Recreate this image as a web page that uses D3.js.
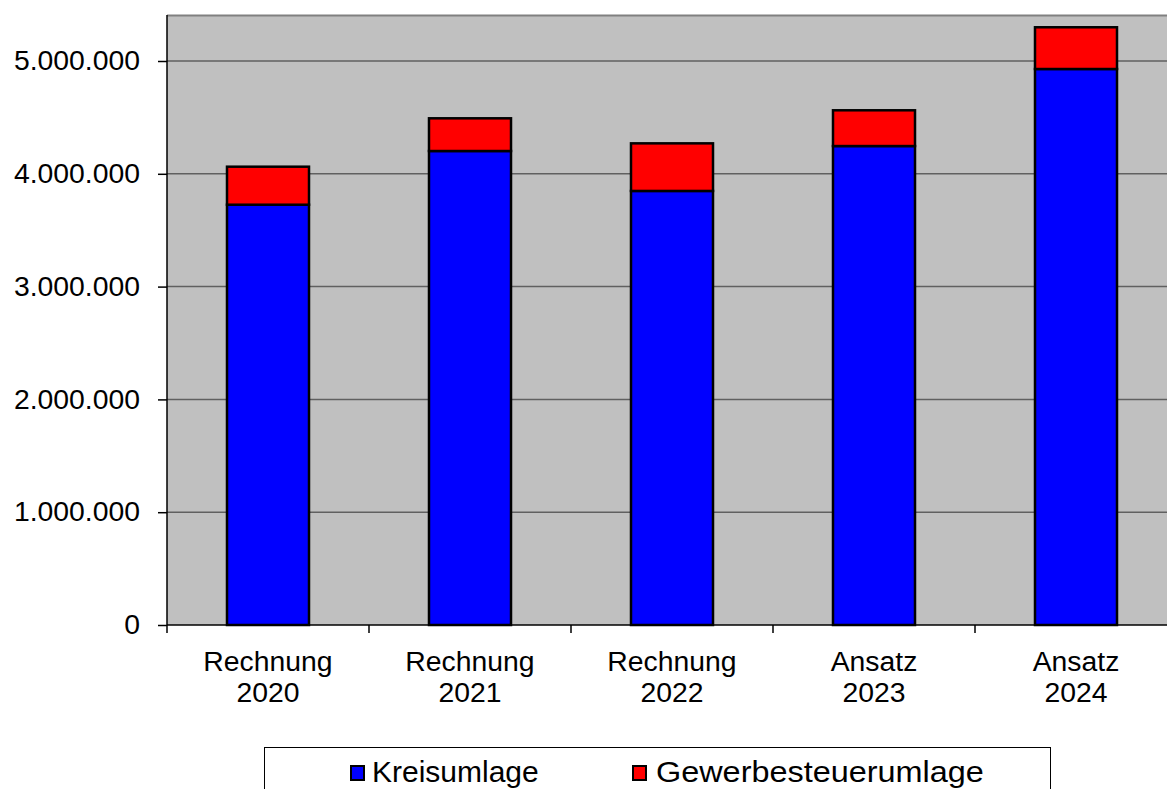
<!DOCTYPE html>
<html><head><meta charset="utf-8">
<script src="https://cdn.jsdelivr.net/npm/d3@7"></script>
<style>body{margin:0;background:#fff}svg{display:block}text{font-family:"Liberation Sans",Arial,sans-serif;fill:#000}</style>
</head><body>
<script>
const categories = [["Rechnung","2020"],["Rechnung","2021"],["Rechnung","2022"],["Ansatz","2023"],["Ansatz","2024"]];
const kreisumlage = [3726000, 4202000, 3848000, 4246000, 4929000];
const gewerbesteuerumlage = [337000, 290000, 422000, 317000, 370000];
const seriesNames = ["Kreisumlage","Gewerbesteuerumlage"];
const seriesColors = ["#0000ff","#ff0000"];
const yTicks = [0,1000000,2000000,3000000,4000000,5000000];
const yTickLabels = ["0","1.000.000","2.000.000","3.000.000","4.000.000","5.000.000"];

(function(){
const W=1167,H=789;
const svg=d3.select("body").append("svg").attr("width",W).attr("height",H);
const pL=167, pR=1177, pT=15, pB=625;
const x=d3.scaleBand().domain(d3.range(categories.length)).range([pL,pR]).paddingInner(0.594).paddingOuter(0.297);
const y=d3.scaleLinear().domain([0,5000000]).range([pB,61]);
function stretch(el,f){const n=el.node();const w=n.getComputedTextLength();el.attr("textLength",w*f).attr("lengthAdjust","spacingAndGlyphs");}

svg.append("rect").attr("x",pL).attr("y",pT).attr("width",W-pL).attr("height",pB-pT).attr("fill","#c0c0c0");
svg.append("line").attr("x1",pL).attr("x2",W).attr("y1",pT+0.5).attr("y2",pT+0.5).attr("stroke","#808080").attr("stroke-width",2);
svg.selectAll(".grid").data(yTicks.slice(1)).enter().append("line")
  .attr("x1",pL).attr("x2",W).attr("y1",d=>y(d)).attr("y2",d=>y(d)).attr("stroke","#606060").attr("stroke-width",1.5);

const data=categories.map((c,i)=>({i,k:kreisumlage[i],g:gewerbesteuerumlage[i]}));
const stack=d3.stack().keys(["k","g"])(data);
stack.forEach((s,si)=>{
  svg.selectAll(".b"+si).data(s).enter().append("rect")
    .attr("x",d=>x(d.data.i)).attr("width",x.bandwidth())
    .attr("y",d=>y(d[1])).attr("height",d=>y(d[0])-y(d[1]))
    .attr("fill",seriesColors[si]).attr("stroke","#000").attr("stroke-width",2.5);
});

const ya=d3.axisLeft(y).tickValues(yTicks).tickFormat((d,i)=>yTickLabels[i]).tickSize(9).tickPadding(18);
const gy=svg.append("g").attr("transform",`translate(${pL},0)`).call(ya);
gy.select(".domain").attr("stroke","#000").attr("stroke-width",1.5).attr("d",`M0,${pT}V${pB}`);
gy.selectAll(".tick line").attr("stroke","#000").attr("stroke-width",1.5);
gy.selectAll(".tick text").attr("font-size",27).attr("font-family","Liberation Sans, Arial, sans-serif").attr("fill","#000")
  .each(function(){stretch(d3.select(this),1.05);});

const step=x.step();
svg.append("line").attr("x1",pL).attr("x2",W).attr("y1",pB).attr("y2",pB).attr("stroke","#000").attr("stroke-width",1.5);
for(let i=0;i<=categories.length;i++){
  const tx=pL+i*step;
  svg.append("line").attr("x1",tx).attr("x2",tx).attr("y1",pB).attr("y2",pB+8).attr("stroke","#000").attr("stroke-width",1.5);
}
categories.forEach((c,i)=>{
  const cx=x(i)+x.bandwidth()/2;
  [0,1].forEach(j=>{
    const t=svg.append("text").attr("text-anchor","middle").attr("font-size",27).attr("x",cx).attr("y",671+31*j).text(c[j]);
    stretch(t,1.05);
  });
});

svg.append("rect").attr("x",264.5).attr("y",747.5).attr("width",786).attr("height",60).attr("fill","#fff").attr("stroke","#000").attr("stroke-width",1);
const legX=[351,633], legTX=[372,656];
seriesNames.forEach((n,i)=>{
  svg.append("rect").attr("x",legX[i]).attr("y",766).attr("width",13).attr("height",14).attr("fill",seriesColors[i]).attr("stroke","#000").attr("stroke-width",2);
  const t=svg.append("text").attr("x",legTX[i]).attr("y",782).attr("font-size",30).text(n);
  if(i===1) stretch(t,1.08);
});
})();
</script>
</body></html>
